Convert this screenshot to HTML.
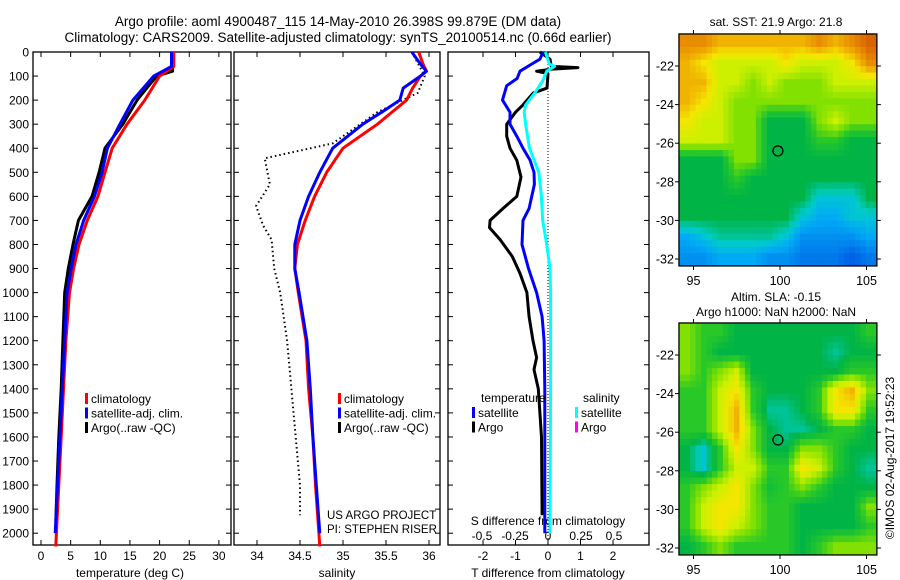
<!DOCTYPE html>
<html><head><meta charset="utf-8">
<style>
html,body{margin:0;padding:0;background:#fff;}
svg{display:block;font-family:"Liberation Sans",sans-serif;}
text{fill:#000;}
</style></head>
<body>
<svg id="c" width="900" height="580" viewBox="0 0 900 580" xmlns="http://www.w3.org/2000/svg">
<g id="maps"></g>
<text x="338" y="26" font-size="13.5" text-anchor="middle">Argo profile: aoml 4900487_115 14-May-2010 26.398S 99.879E (DM data)</text>
<text x="338" y="42" font-size="13.5" text-anchor="middle">Climatology: CARS2009. Satellite-adjusted climatology: synTS_20100514.nc (0.66d earlier)</text>
<text x="776" y="26" font-size="12" text-anchor="middle">sat. SST: 21.9 Argo: 21.8</text>
<text x="776" y="301" font-size="12" text-anchor="middle">Altim. SLA: -0.15</text>
<text x="776" y="316" font-size="12" text-anchor="middle">Argo h1000: NaN h2000: NaN</text>
<text transform="translate(894,458) rotate(-90)" font-size="12" text-anchor="middle">©IMOS 02-Aug-2017 19:52:23</text>
<text x="130" y="577" font-size="12" text-anchor="middle">temperature (deg C)</text>
<text x="337" y="577" font-size="12" text-anchor="middle">salinity</text>
<text x="548" y="577" font-size="12" text-anchor="middle">T difference from climatology</text>
<text x="548" y="525" font-size="12" text-anchor="middle">S difference from climatology</text>
<text x="327" y="519" font-size="11.5">US ARGO PROJECT</text>
<text x="327" y="533" font-size="11.5">PI: STEPHEN RISER</text>
</svg>
<script>
// ---------- data ----------
const depthTicks=[0,100,200,300,400,500,600,700,800,900,1000,1100,1200,1300,1400,1500,1600,1700,1800,1900,2000];
const tempTicks=[0,5,10,15,20,25,30];
const salTicks=[34,34.5,35,35.5,36];
const salTickLabels=["34","34.5","35","35.5","36"];
const dTTicks=[-2,-1,0,1,2];
const dSTicks=[-0.5,-0.25,0,0.25,0.5];
const dSTickLabels=["-0.5","-0.25","0","0.25","0.5"];

const tClimDepth=[0,60,100,200,300,400,500,600,700,800,900,1000,1200,1400,1600,1800,2000,2055];
const tClimVal=[22.4,22.4,20,17.5,14.5,12,10.8,9.6,7.8,6.4,5.5,4.8,4.2,3.8,3.4,3.0,2.6,2.5];
const tSatDepth=[0,60,100,200,300,400,500,600,700,800,900,1000,1200,1400,1600,1800,2000];
const tSatVal=[22.0,22.0,19,15.5,13.3,11.2,10.3,9.0,7.2,5.9,5.1,4.4,4.0,3.6,3.2,2.8,2.4];
const tArgoDepth=[0,80,100,200,300,400,500,600,700,800,900,1000,1200,1400,1600,1800,1950];
const tArgoVal=[22.2,22.2,19.5,16.2,13.8,10.8,9.8,8.6,6.3,5.4,4.6,4.0,3.7,3.4,3.0,2.7,2.5];

const sClimDepth=[0,50,80,100,150,200,300,400,500,600,700,800,900,1000,1200,1400,1600,1800,2000,2055];
const sClimVal=[35.88,35.93,35.97,35.9,35.81,35.74,35.4,35.0,34.81,34.67,34.56,34.47,34.44,34.48,34.57,34.6,34.65,34.68,34.72,34.73];
const sSatDepth=[0,50,80,100,150,200,250,300,400,500,600,700,800,900,1000,1200,1400,1600,1800,2000];
const sSatVal=[35.8,35.9,35.97,35.9,35.7,35.66,35.45,35.23,34.88,34.73,34.6,34.5,34.44,34.44,34.49,34.58,34.62,34.65,34.69,34.73];
const sArgoDepth=[0,100,170,250,310,380,442,550,640,720,780,900,1000,1200,1400,1600,1800,1925];
const sArgoVal=[35.8,35.95,35.87,35.4,35.16,34.88,34.09,34.15,33.99,34.07,34.17,34.2,34.27,34.35,34.4,34.45,34.5,34.5];

const dTArgoDepth=[0,30,60,65,72,80,90,150,170,220,250,300,350,400,450,520,600,650,700,730,780,850,920,1000,1100,1200,1270,1320,1400,1500,1600,1925];
const dTArgoVal=[-0.25,0.06,0.1,0.92,0.06,-0.35,0,-0.03,-0.45,-0.77,-1.0,-1.27,-1.27,-1.17,-0.96,-0.83,-0.96,-1.38,-1.78,-1.8,-1.47,-1.1,-0.86,-0.65,-0.58,-0.46,-0.35,-0.43,-0.3,-0.25,-0.2,-0.18];
const dTSatDepth=[0,30,50,80,110,140,200,250,300,350,400,450,500,550,650,700,800,900,1000,1100,1200,1400,2000];
const dTSatVal=[-0.15,-0.25,-0.5,-0.86,-0.95,-1.27,-1.4,-1.17,-1.17,-0.96,-0.77,-0.55,-0.43,-0.42,-0.58,-0.77,-0.8,-0.6,-0.35,-0.18,-0.12,-0.1,-0.1];
const dSSatDepth=[0,50,60,80,120,170,220,250,300,400,500,600,700,800,900,1000,1400,2000];
const dSSatVal=[-0.02,0.01,0.05,-0.01,-0.04,-0.1,-0.17,-0.18,-0.17,-0.14,-0.07,-0.05,-0.04,-0.01,0.015,0.02,0.02,0.015];

const mapLonTicks=[95,100,105];
const mapLatTicks=[-22,-24,-26,-28,-30,-32];
const argoLon=99.879, argoLat=-26.398;
const sstGrid=[
[9,9,8,8,8,8,8,8,9,8,9,10],
[8,7,6,6,6,6,7,6,6,6,7,9],
[8,8,6,6,5,6,5,5,5,6,6,6],
[8,7,6,5,5,5,5,5,5,5,5,5],
[7,6,6,5,5,3,3,3,5,6,5,5],
[6,6,6,5,5,3,3,3,4,4,3,3],
[3,3,3,5,5,3,3,3,3,3,3,3],
[3,3,3,4,3,3,3,3,3,3,3,3],
[3,3,3,3,3,3,3,3,2,2,2,3],
[3,3,3,3,3,3,3,2,1.5,1.5,2,2],
[1.5,2,2.5,2.5,2.5,2.5,2,1,1,1,1,1.5],
[1,1,1.5,1.5,1.5,1,1,0.5,0.5,0.5,0,0.5]];
const slaGrid=[
[5,4,4,3,3,3,3,3,3,3,3,4],
[5,4,3,3,3,3,3,3,3,2.5,3,3],
[5,4,5,6,3,3,3,3,3,3,4,4],
[4,4,6,7,4,3,3,3,4,7,8,5],
[4,4,6,8,4,2.5,2.5,3,4,7,7,4],
[4,4,6,8,5,3,2.5,2.5,3,4,4,3],
[3,2,4,7,5,3,3,5,5,4,3,3],
[3,2,4,6,6,4,4,7,6,4,3,2.5],
[4,5,6,7,5,3.5,4,5,4,3,3,3],
[4,6,7,7,5,4,4,3,3,3,3,5],
[4,6,7,6,5,4,4,3,3,3,3,4],
[3,4,5,4,4,4,4,3,4,5,5,5]];

// ---------- scales ----------
const yD=d=>52+d*0.2406;
const xT=t=>41+t*5.93;
const xS=s=>257+(s-34)*86;
const xDT=v=>548+v*32.5;
const xDS=v=>548+v*132;
const mapX=lon=>780+(lon-100)*17.3;
const map1Y=lat=>66+(-22-lat)*19.3;
const map2Y=lat=>355+(-22-lat)*19.3;

const NS="http://www.w3.org/2000/svg";
const svg=document.getElementById('c');
function mk(tag,attrs,parent){const e=document.createElementNS(NS,tag);for(const k in attrs)e.setAttribute(k,attrs[k]);(parent||svg).appendChild(e);return e;}

const panels=[{x0:33,x1:231,name:'temperature-panel'},{x0:234,x1:440,name:'salinity-panel'},{x0:448,x1:649,name:'difference-panel'}];
const yTop=52,yBot=545;
panels.forEach(p=>{
  const g=mk('g',{});
  
  
  const r=mk('rect',{x:p.x0,y:yTop,width:p.x1-p.x0,height:yBot-yTop,fill:'none',stroke:'#000','stroke-width':1.3},g);
  
  
  depthTicks.forEach(d=>{
    const y=yD(d);
    mk('line',{x1:p.x0,x2:p.x0+5,y1:y,y2:y,stroke:'#000'},g);
    mk('line',{x1:p.x1,x2:p.x1-5,y1:y,y2:y,stroke:'#000'},g);
  });
});
depthTicks.forEach(d=>{
  const t=mk('text',{x:29,y:yD(d)+4.5,'font-size':12,'text-anchor':'end'});
  t.textContent=d;
  
  
});
function xticks(vals,labels,fx,ly){
  vals.forEach((v,i)=>{
    const x=fx(v);
    mk('line',{x1:x,x2:x,y1:yTop,y2:yTop+5,stroke:'#000'});
    mk('line',{x1:x,x2:x,y1:yBot,y2:yBot-5,stroke:'#000'});
    const t=mk('text',{x:x,y:ly,'font-size':12,'text-anchor':'middle'});
    t.textContent=labels[i];
    
    
  });
}
xticks(tempTicks,tempTicks.map(String),xT,560);
xticks(salTicks,salTickLabels,xS,560);
xticks(dTTicks,dTTicks.map(String),xDT,560);
dSTicks.forEach((v,i)=>{
  const t=mk('text',{x:xDS(v),y:540,'font-size':12,'text-anchor':'middle'});
  t.textContent=dSTickLabels[i];
  
  
});
const zl=mk('line',{x1:xDT(0),x2:xDT(0),y1:yTop,y2:yBot,stroke:'#000','stroke-width':1,'stroke-dasharray':'1 2'});



function series(depths,vals,fx,color,name,dash){
  const pts=depths.map((d,i)=>fx(vals[i]).toFixed(1)+','+yD(d).toFixed(1)).join(' ');
  const a={points:pts,fill:'none',stroke:color,'stroke-width':dash?2:3,'stroke-linejoin':'round'};
  if(dash)a['stroke-dasharray']=dash;
  const e=mk('polyline',a);
  
  
}
series(tArgoDepth,tArgoVal,xT,'#000','temp-argo-line');
series(tClimDepth,tClimVal,xT,'#f00','temp-climatology-line');
series(tSatDepth,tSatVal,xT,'#00f','temp-satellite-line');
series(sArgoDepth,sArgoVal,xS,'#000','salinity-argo-line','1.5 3');
series(sClimDepth,sClimVal,xS,'#f00','salinity-climatology-line');
series(sSatDepth,sSatVal,xS,'#00f','salinity-satellite-line');
series(dTArgoDepth,dTArgoVal,xDT,'#000','t-diff-argo-line');
series(dTSatDepth,dTSatVal,xDT,'#00f','t-diff-satellite-line');
series(dSSatDepth,dSSatVal,xDS,'#0ff','s-diff-satellite-line');

function legend(x,y,items){
  items.forEach((it,i)=>{
    const yy=y+i*14.5;
    const b=mk('rect',{x:x,y:yy-9,width:3,height:11,fill:it[1]});
    
    
    const t=mk('text',{x:x+6,y:yy+1,'font-size':12});
    t.textContent=it[0];
    
    
  });
}
const legItems=[['climatology','#f00'],['satellite-adj. clim.','#00f'],['Argo(..raw -QC)','#000']];
legend(85,402,legItems);
legend(338,402,legItems);
legend(472,416,[['satellite','#00f'],['Argo','#000']]);
legend(575,416,[['satellite','#0ff'],['Argo','#f0f']]);
let lt=mk('text',{x:481,y:402,'font-size':12});lt.textContent='temperature';


lt=mk('text',{x:583,y:402,'font-size':12});lt.textContent='salinity';



// ---------- maps ----------
const cstops=[[0,[0,96,230]],[1.5,[0,170,245]],[2.2,[0,205,200]],[3,[0,180,70]],[4,[40,200,40]],[5,[130,225,0]],[6,[205,240,0]],[7,[245,230,0]],[8,[240,180,0]],[9,[232,140,0]],[10,[216,100,0]]];
function cmap(v){
  for(let i=1;i<cstops.length;i++){
    if(v<=cstops[i][0]){const a=cstops[i-1],b=cstops[i],f=(v-a[0])/(b[0]-a[0]);
      return 'rgb('+a[1].map((c,k)=>Math.round(c+(b[1][k]-c)*f)).join(',')+')';}
  }
  return 'rgb(216,100,0)';
}
function sample(grid,r,c){ // bilinear on cell centres
  const nr=grid.length,nc=grid[0].length;
  let rr=Math.min(Math.max(r-0.5,0),nr-1),cc=Math.min(Math.max(c-0.5,0),nc-1);
  const r0=Math.floor(rr),c0=Math.floor(cc),r1=Math.min(r0+1,nr-1),c1=Math.min(c0+1,nc-1);
  const fr=rr-r0,fc=cc-c0;
  return grid[r0][c0]*(1-fr)*(1-fc)+grid[r0][c1]*(1-fr)*fc+grid[r1][c0]*fr*(1-fc)+grid[r1][c1]*fr*fc;
}
const mapsG=document.getElementById('maps');
function drawMap(grid,mY,name){
  const g=mk('g',{},mapsG);
  
  
  const lon0=94.16,lon1=105.6,latTop=-20.34,latBot=-32.36;
  const nr=grid.length,nc=grid[0].length,S=3;
  for(let r=0;r<nr*S;r++)for(let c=0;c<nc*S;c++){
    const v=sample(grid,(r+0.5)/S,(c+0.5)/S);
    const xa=mapX(lon0+(lon1-lon0)*c/(nc*S)),xb=mapX(lon0+(lon1-lon0)*(c+1)/(nc*S));
    const ya=mY(latTop+(latBot-latTop)*r/(nr*S)),yb=mY(latTop+(latBot-latTop)*(r+1)/(nr*S));
    const cell=mk('rect',{x:xa.toFixed(1),y:ya.toFixed(1),width:(xb-xa+0.6).toFixed(1),height:(yb-ya+0.6).toFixed(1),fill:cmap(v)},g);
    
    
  }
  const x0=mapX(lon0),x1=mapX(lon1),y0=mY(latTop),y1=mY(latBot);
  mk('rect',{x:x0,y:y0,width:x1-x0,height:y1-y0,fill:'none',stroke:'#000','stroke-width':1.3},g);
  mapLonTicks.forEach(l=>{
    const x=mapX(l);
    mk('line',{x1:x,x2:x,y1:y0,y2:y0-4,stroke:'#000'},g);
    mk('line',{x1:x,x2:x,y1:y1,y2:y1+4,stroke:'#000'},g);
    const t=mk('text',{x:x,y:y1+19,'font-size':12.5,'text-anchor':'middle'},g);t.textContent=l;
    
    
  });
  mapLatTicks.forEach(l=>{
    const y=mY(l);
    mk('line',{x1:x0,x2:x0-4,y1:y,y2:y,stroke:'#000'},g);
    mk('line',{x1:x1,x2:x1+4,y1:y,y2:y,stroke:'#000'},g);
    const t=mk('text',{x:x0-5,y:y+4.5,'font-size':12.5,'text-anchor':'end'},g);t.textContent=l;
    
    
  });
  const m=mk('circle',{cx:mapX(argoLon),cy:mY(argoLat),r:5,fill:'none',stroke:'#000','stroke-width':1.2},g);
  
  
}
drawMap(sstGrid,map1Y,'sst-map');
drawMap(slaGrid,map2Y,'sla-map');
</script>
</body></html>
